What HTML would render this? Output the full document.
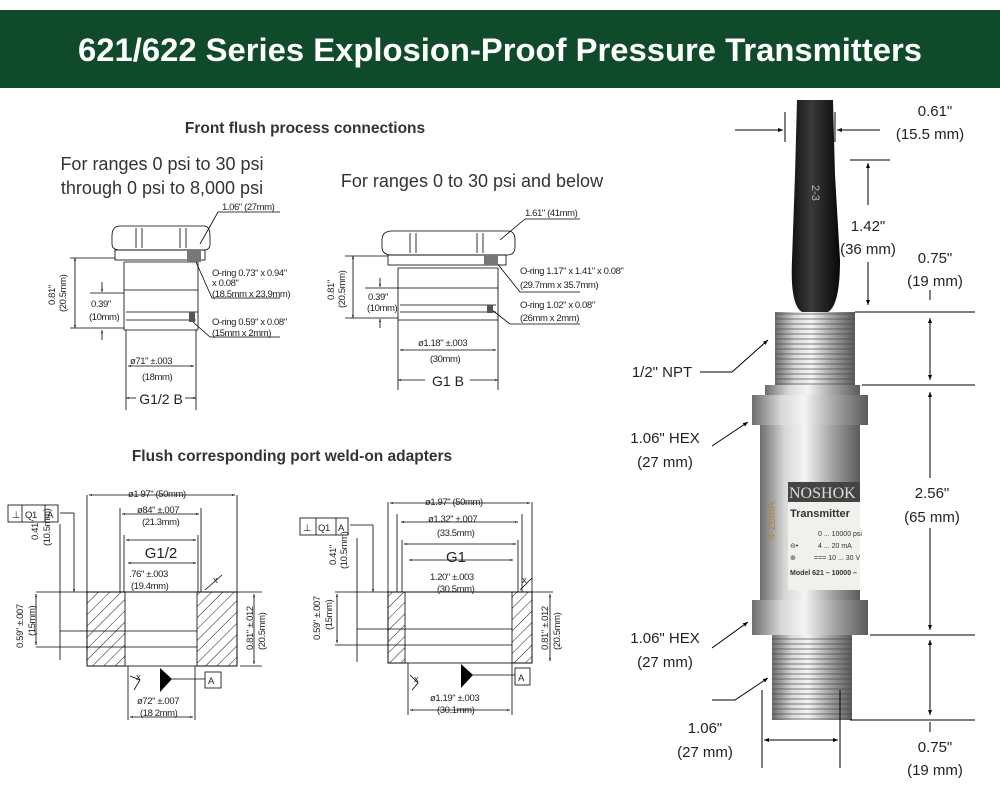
<!DOCTYPE html>
<html><head><meta charset="utf-8"><style>
html,body{margin:0;padding:0;background:#fff;}
svg{display:block;font-family:"Liberation Sans",Arial,sans-serif;}
</style></head><body>
<svg width="1000" height="798" viewBox="0 0 1000 798" xmlns="http://www.w3.org/2000/svg">
<defs>
<marker id="a" viewBox="0 0 10 10" refX="10" refY="5" markerWidth="5" markerHeight="5" orient="auto-start-reverse"><path d="M0,1 L10,5 L0,9z" fill="#000"/></marker>
<marker id="s" viewBox="0 0 10 10" refX="10" refY="5" markerWidth="4" markerHeight="4" orient="auto-start-reverse"><path d="M0,2 L10,5 L0,8z" fill="#000"/></marker>
<pattern id="h" width="8" height="8" patternUnits="userSpaceOnUse" patternTransform="rotate(45)"><line x1="0" y1="0" x2="0" y2="8" stroke="#000" stroke-width="0.9"/></pattern>
<linearGradient id="m" x1="0" x2="1"><stop offset="0" stop-color="#6d6d6d"/><stop offset=".25" stop-color="#d8d8d8"/><stop offset=".45" stop-color="#f4f4f4"/><stop offset=".7" stop-color="#a8a8a8"/><stop offset="1" stop-color="#5a5a5a"/></linearGradient>
<linearGradient id="c" x1="0" x2="1"><stop offset="0" stop-color="#111"/><stop offset=".4" stop-color="#3a3a3a"/><stop offset="1" stop-color="#080808"/></linearGradient>
<pattern id="tl" width="1000" height="5" patternUnits="userSpaceOnUse"><line x1="0" y1="4" x2="1000" y2="4" stroke="#444" stroke-width="1.3" opacity=".55"/></pattern>
</defs>
<rect x="0" y="10" width="1000" height="78" fill="#0f4a2a"/>
<text x="78" y="61" font-size="32" font-weight="bold" fill="#fff" textLength="844" lengthAdjust="spacingAndGlyphs">621/622 Series Explosion-Proof Pressure Transmitters</text>

<g fill="#333">
<text x="305" y="133" font-size="15.5" font-weight="bold" text-anchor="middle">Front flush process connections</text>
<text x="162" y="170" font-size="18" text-anchor="middle">For ranges 0 psi to 30 psi</text>
<text x="162" y="194" font-size="18" text-anchor="middle">through 0 psi to 8,000 psi</text>
<text x="472" y="187" font-size="18" text-anchor="middle">For ranges 0 to 30 psi and below</text>
<text x="292" y="461" font-size="15.5" font-weight="bold" text-anchor="middle">Flush corresponding port weld-on adapters</text>
</g>

<!-- Fitting 1 -->
<g stroke="#000" stroke-width="0.8" fill="none">
<path d="M112,236 Q112,226 120,226 L204,226 Q210,226 210,236 L210,244 Q210,250 204,250 L120,250 Q112,250 112,244 Z"/>
<line x1="136" y1="228" x2="136" y2="248"/><line x1="142" y1="228" x2="142" y2="248"/>
<line x1="180" y1="228" x2="180" y2="248"/><line x1="186" y1="228" x2="186" y2="248"/>
<rect x="115" y="250" width="90" height="10"/>
<path d="M124,262 L198,262 M124,262 L124,330 M198,262 L198,330 M124,290 L198,290 M126,312 L198,312 M126,320 L196,320 M124,330 L198,330"/>
<line x1="115" y1="258" x2="70" y2="258"/><line x1="124" y1="328" x2="70" y2="328"/>
<line x1="75" y1="258" x2="75" y2="328" marker-start="url(#s)" marker-end="url(#s)"/>
<line x1="90" y1="293" x2="124" y2="293"/>
<line x1="102" y1="282" x2="102" y2="292" marker-end="url(#s)"/><line x1="102" y1="340" x2="102" y2="330" marker-end="url(#s)"/>
<line x1="126" y1="330" x2="126" y2="410"/><line x1="196" y1="330" x2="196" y2="410"/>
<line x1="128" y1="366" x2="194" y2="366" marker-start="url(#s)" marker-end="url(#s)"/>
<line x1="126" y1="398" x2="136" y2="398" marker-start="url(#s)"/><line x1="185" y1="398" x2="196" y2="398" marker-end="url(#s)"/>
<path d="M200,244 L218,212 L280,212"/><path d="M196,262 L212,298 L280,298"/><path d="M193,322 L210,337 L280,337"/>
</g>
<rect x="187" y="250" width="14" height="12" fill="#777"/>
<rect x="189" y="312" width="6" height="10" fill="#555"/>
<g fill="#222" font-size="9.5" letter-spacing="-0.4">
<text x="222" y="210">1.06" (27mm)</text>
<text x="212" y="276">O-ring 0.73" x 0.94"</text><text x="212" y="286">x 0.08"</text><text x="212" y="297">(18.5mm x 23.9mm)</text>
<text x="212" y="325">O-ring 0.59" x 0.08"</text><text x="212" y="336">(15mm x 2mm)</text>
<text x="91" y="307">0.39"</text><text x="89" y="320">(10mm)</text>
<text x="130" y="364">ø71" ±.003</text><text x="142" y="380">(18mm)</text>
<text transform="translate(55,305) rotate(-90)">0.81"</text><text transform="translate(66,312) rotate(-90)">(20.5mm)</text>
</g>
<text x="161" y="404" font-size="14" fill="#222" text-anchor="middle">G1/2 B</text>

<!-- Fitting 2 -->
<g stroke="#000" stroke-width="0.8" fill="none">
<path d="M382,240 Q382,231 392,231 L508,231 Q515,231 515,240 L515,247 Q515,255 507,255 L392,255 Q382,255 382,247 Z"/>
<line x1="410" y1="233" x2="410" y2="253"/><line x1="416" y1="233" x2="416" y2="253"/>
<line x1="477" y1="233" x2="477" y2="253"/><line x1="483" y1="233" x2="483" y2="253"/>
<rect x="388" y="255" width="118" height="10"/>
<path d="M398,268 L498,268 M398,268 L398,320 M498,268 L498,320 M398,288 L498,288 M400,305 L496,305 M400,312 L496,312 M398,320 L498,320"/>
<line x1="388" y1="256" x2="345" y2="256"/><line x1="398" y1="318" x2="345" y2="318"/>
<line x1="353" y1="256" x2="353" y2="318" marker-start="url(#s)" marker-end="url(#s)"/>
<line x1="365" y1="288" x2="398" y2="288"/>
<line x1="380" y1="278" x2="380" y2="287" marker-end="url(#s)"/><line x1="380" y1="328" x2="380" y2="319" marker-end="url(#s)"/>
<line x1="398" y1="320" x2="398" y2="390"/><line x1="498" y1="320" x2="498" y2="390"/>
<line x1="400" y1="350" x2="496" y2="350" marker-start="url(#s)" marker-end="url(#s)"/>
<line x1="398" y1="380" x2="425" y2="380" marker-start="url(#s)"/><line x1="470" y1="380" x2="498" y2="380" marker-end="url(#s)"/>
<path d="M500,240 L525,219 L580,219"/><path d="M496,262 L520,292 L580,292"/><path d="M492,310 L510,324 L580,324"/>
</g>
<rect x="484" y="255" width="14" height="10" fill="#777"/>
<rect x="487" y="305" width="6" height="8" fill="#555"/>
<g fill="#222" font-size="9.5" letter-spacing="-0.4">
<text x="525" y="216">1.61" (41mm)</text>
<text x="520" y="274">O-ring 1.17" x 1.41" x 0.08"</text><text x="520" y="288">(29.7mm x 35.7mm)</text>
<text x="520" y="308">O-ring 1.02" x 0.08"</text><text x="520" y="321">(26mm x 2mm)</text>
<text x="368" y="300">0.39"</text><text x="367" y="311">(10mm)</text>
<text x="418" y="346">ø1.18" ±.003</text><text x="430" y="362">(30mm)</text>
<text transform="translate(334,300) rotate(-90)">0.81"</text><text transform="translate(345,308) rotate(-90)">(20.5mm)</text>
</g>
<text x="448" y="386" font-size="14" fill="#222" text-anchor="middle">G1 B</text>

<!-- Adapter 1 -->
<g stroke="#000" stroke-width="0.8" fill="none">
<rect x="87" y="592" width="38" height="74" fill="url(#h)"/><rect x="197" y="592" width="40" height="74" fill="url(#h)"/>
<rect x="87" y="592" width="150" height="74"/>
<line x1="36" y1="592" x2="262" y2="592"/>
<line x1="60" y1="631" x2="197" y2="631"/><line x1="36" y1="647" x2="197" y2="647"/>
<line x1="87" y1="495" x2="87" y2="592"/><line x1="237" y1="495" x2="237" y2="592"/>
<line x1="89" y1="495" x2="235" y2="495" marker-start="url(#s)" marker-end="url(#s)"/>
<line x1="120" y1="508" x2="120" y2="592"/><line x1="201" y1="508" x2="201" y2="592"/>
<line x1="122" y1="514" x2="199" y2="514" marker-start="url(#s)" marker-end="url(#s)"/>
<line x1="124" y1="535" x2="124" y2="592"/><line x1="198" y1="535" x2="198" y2="592"/>
<line x1="126" y1="540" x2="196" y2="540" marker-start="url(#s)" marker-end="url(#s)"/>
<line x1="128" y1="563" x2="196" y2="563" marker-start="url(#s)" marker-end="url(#s)"/>
<line x1="128" y1="666" x2="128" y2="720"/><line x1="195" y1="666" x2="195" y2="720"/>
<line x1="130" y1="717" x2="193" y2="717" marker-start="url(#s)" marker-end="url(#s)"/>
<line x1="60" y1="524" x2="60" y2="660"/><line x1="74" y1="513" x2="74" y2="592" marker-end="url(#s)"/><line x1="60" y1="513" x2="74" y2="513"/>
<line x1="36" y1="594" x2="36" y2="645" marker-start="url(#s)" marker-end="url(#s)"/>
<line x1="254" y1="594" x2="254" y2="664" marker-start="url(#s)" marker-end="url(#s)"/>
<line x1="240" y1="666" x2="262" y2="666"/>
<rect x="8" y="505" width="50" height="17"/><line x1="22" y1="505" x2="22" y2="522"/><line x1="45" y1="505" x2="45" y2="522"/>
<line x1="172" y1="679" x2="205" y2="679"/><rect x="205" y="672" width="16" height="16"/>
<path d="M130,676 L140,680 L134,690"/><path d="M205,590 L222,575"/>
</g>
<path d="M160,668 L172,679 L160,692Z" fill="#000"/>
<g fill="#222" font-size="9.5" letter-spacing="-0.4">
<text x="12" y="518">⊥</text><text x="25" y="518">Q1</text><text x="47" y="518">A</text>
<text x="128" y="497">ø1 97" (50mm)</text>
<text x="137" y="513">ø84" ±.007</text><text x="142" y="525">(21.3mm)</text>
<text x="129" y="577">.76" ±.003</text><text x="131" y="589">(19.4mm)</text>
<text x="137" y="704">ø72" ±.007</text><text x="140" y="716">(18 2mm)</text>
<text x="208" y="684">A</text><text x="213" y="583">x</text><text x="136" y="680">x</text>
<text transform="translate(38,540) rotate(-90)">0.41"</text><text transform="translate(50,546) rotate(-90)">(10.5mm)</text>
<text transform="translate(23,648) rotate(-90)">0.59" ±.007</text><text transform="translate(35,636) rotate(-90)">(15mm)</text>
<text transform="translate(253,650) rotate(-90)">0.81" ±.012</text><text transform="translate(265,650) rotate(-90)">(20.5mm)</text>
</g>
<text x="161" y="558" font-size="15" fill="#222" text-anchor="middle">G1/2</text>

<!-- Adapter 2 -->
<g stroke="#000" stroke-width="0.8" fill="none">
<rect x="388" y="592" width="17" height="71" fill="url(#h)"/><rect x="512" y="592" width="20" height="71" fill="url(#h)"/>
<rect x="388" y="592" width="144" height="71"/>
<line x1="335" y1="592" x2="553" y2="592"/>
<line x1="357" y1="629" x2="512" y2="629"/><line x1="335" y1="645" x2="512" y2="645"/>
<line x1="388" y1="502" x2="388" y2="592"/><line x1="532" y1="502" x2="532" y2="592"/>
<line x1="390" y1="503" x2="530" y2="503" marker-start="url(#s)" marker-end="url(#s)"/>
<line x1="397" y1="514" x2="397" y2="592"/><line x1="522" y1="514" x2="522" y2="592"/>
<line x1="401" y1="522" x2="518" y2="522" marker-start="url(#s)" marker-end="url(#s)"/>
<line x1="402" y1="540" x2="402" y2="592"/><line x1="518" y1="540" x2="518" y2="592"/>
<line x1="404" y1="544" x2="516" y2="544" marker-start="url(#s)" marker-end="url(#s)"/>
<line x1="409" y1="560" x2="513" y2="560" marker-start="url(#s)" marker-end="url(#s)"/>
<line x1="408" y1="663" x2="408" y2="715"/><line x1="512" y1="663" x2="512" y2="715"/>
<line x1="410" y1="710" x2="510" y2="710" marker-start="url(#s)" marker-end="url(#s)"/>
<line x1="357" y1="538" x2="357" y2="662"/><line x1="373" y1="525" x2="373" y2="592" marker-end="url(#s)"/><line x1="350" y1="525" x2="373" y2="525"/>
<line x1="337" y1="594" x2="337" y2="643" marker-start="url(#s)" marker-end="url(#s)"/>
<line x1="550" y1="594" x2="550" y2="661" marker-start="url(#s)" marker-end="url(#s)"/>
<rect x="300" y="518" width="48" height="17"/><line x1="316" y1="518" x2="316" y2="535"/><line x1="336" y1="518" x2="336" y2="535"/>
<line x1="472" y1="675" x2="515" y2="675"/><rect x="515" y="668" width="15" height="17"/>
<path d="M410,675 L418,683 L412,690"/><path d="M520,590 L532,578"/>
</g>
<path d="M461,664 L473,675 L461,688Z" fill="#000"/>
<g fill="#222" font-size="9.5" letter-spacing="-0.4">
<text x="303" y="531">⊥</text><text x="318" y="531">Q1</text><text x="338" y="531">A</text>
<text x="425" y="505">ø1.97" (50mm)</text>
<text x="428" y="522">ø1.32" ±.007</text><text x="437" y="536">(33.5mm)</text>
<text x="430" y="580">1.20" ±.003</text><text x="437" y="592">(30.5mm)</text>
<text x="430" y="701">ø1.19" ±.003</text><text x="437" y="713">(30.1mm)</text>
<text x="518" y="681">A</text><text x="522" y="583">x</text><text x="414" y="682">x</text>
<text transform="translate(336,565) rotate(-90)">0.41"</text><text transform="translate(347,569) rotate(-90)">(10.5mm)</text>
<text transform="translate(320,640) rotate(-90)">0.59" ±.007</text><text transform="translate(332,630) rotate(-90)">(15mm)</text>
<text transform="translate(548,650) rotate(-90)">0.81" ±.012</text><text transform="translate(560,650) rotate(-90)">(20.5mm)</text>
</g>
<text x="456" y="562" font-size="15" fill="#222" text-anchor="middle">G1</text>

<!-- Transmitter photo -->
<path d="M797,100 L833,100 L835,175 L840,260 Q840,305 828,312 L802,312 Q790,305 792,260 L795,175 Z" fill="url(#c)"/>
<text transform="translate(812,185) rotate(90)" font-size="11" fill="#bbb">2-3</text>
<rect x="775" y="312" width="80" height="73" fill="url(#m)"/><rect x="775" y="312" width="80" height="73" fill="url(#tl)"/>
<rect x="765" y="385" width="95" height="10" fill="url(#m)"/>
<rect x="752" y="395" width="116" height="30" fill="url(#m)"/>
<rect x="760" y="425" width="100" height="175" fill="url(#m)"/>
<rect x="788" y="482" width="72" height="108" fill="#f0f0ec"/>
<rect x="788" y="482" width="72" height="20" fill="#444"/>
<text x="789" y="498" font-size="16" fill="#ddd" font-family="Liberation Serif,serif">NOSHOK</text>
<text x="790" y="517" font-size="11" font-weight="bold" fill="#333">Transmitter</text>
<g font-size="7" fill="#333"><text x="818" y="536">0 ... 10000 psi</text><text x="790" y="548">⊖•</text><text x="818" y="548">4 ... 20 mA</text><text x="790" y="560">⊕</text><text x="814" y="560">=== 10 ... 30 V</text><text x="790" y="575" font-weight="bold">Model 621 – 10000 –</text></g>
<text transform="translate(775,540) rotate(-90)" font-size="11" fill="#aa8844">4-20mA</text>
<rect x="752" y="600" width="116" height="35" fill="url(#m)"/>
<rect x="772" y="635" width="80" height="85" fill="url(#m)"/><rect x="772" y="635" width="80" height="85" fill="url(#tl)"/>

<g stroke="#000" stroke-width="1" fill="none">
<line x1="785" y1="112" x2="785" y2="142"/><line x1="835" y1="112" x2="835" y2="142"/>
<line x1="735" y1="130" x2="783" y2="130" marker-end="url(#a)"/><line x1="880" y1="130" x2="837" y2="130" marker-end="url(#a)"/>
<line x1="850" y1="160" x2="890" y2="160"/>
<line x1="868" y1="205" x2="868" y2="163" marker-end="url(#a)"/><line x1="868" y1="262" x2="868" y2="305" marker-end="url(#a)"/>
<line x1="855" y1="312" x2="975" y2="312"/><line x1="930" y1="290" x2="930" y2="300"/>
<line x1="930" y1="318" x2="930" y2="380" marker-start="url(#a)" marker-end="url(#a)"/>
<line x1="862" y1="385" x2="975" y2="385"/>
<line x1="930" y1="392" x2="930" y2="478" marker-start="url(#a)"/><line x1="930" y1="528" x2="930" y2="630" marker-end="url(#a)"/>
<line x1="870" y1="635" x2="975" y2="635"/>
<line x1="930" y1="640" x2="930" y2="715" marker-start="url(#a)" marker-end="url(#a)"/>
<line x1="850" y1="720" x2="975" y2="720"/><line x1="930" y1="722" x2="930" y2="732"/>
<path d="M700,372 L732,372 L768,340" marker-end="url(#a)"/>
<path d="M712,446 L748,422" marker-end="url(#a)"/>
<path d="M712,648 L748,622" marker-end="url(#a)"/>
<path d="M712,700 L735,700 L768,678" marker-end="url(#a)"/>
<line x1="762" y1="690" x2="762" y2="768"/><line x1="840" y1="690" x2="840" y2="768"/>
<line x1="764" y1="740" x2="838" y2="740" marker-start="url(#a)" marker-end="url(#a)"/>
</g>
<g font-size="15" fill="#222" text-anchor="middle">
<text x="935" y="116">0.61"</text><text x="930" y="139">(15.5 mm)</text>
<text x="868" y="231">1.42"</text><text x="868" y="254">(36 mm)</text>
<text x="935" y="263">0.75"</text><text x="935" y="286">(19 mm)</text>
<text x="932" y="498">2.56"</text><text x="932" y="522">(65 mm)</text>
<text x="935" y="752">0.75"</text><text x="935" y="775">(19 mm)</text>
<text x="662" y="377">1/2" NPT</text>
<text x="665" y="443">1.06" HEX</text><text x="665" y="467">(27 mm)</text>
<text x="665" y="643">1.06" HEX</text><text x="665" y="667">(27 mm)</text>
<text x="705" y="733">1.06"</text><text x="705" y="757">(27 mm)</text>
</g>
</svg>
</body></html>
